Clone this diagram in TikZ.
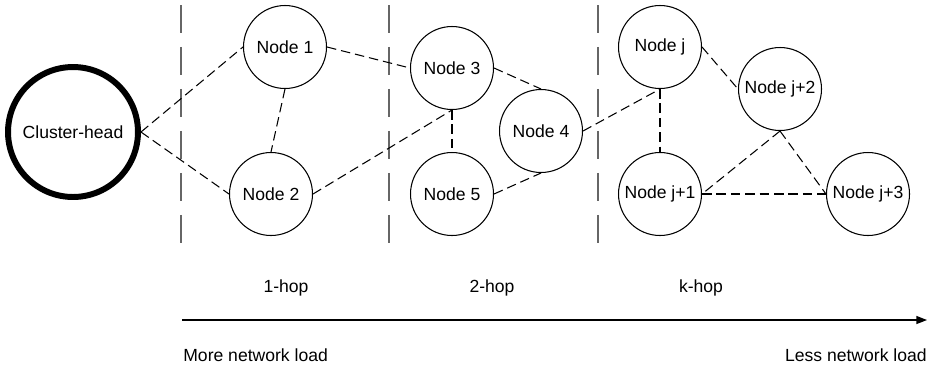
\documentclass[tikz,border=0pt]{standalone}
\usepackage{fontspec}
\setmainfont{Liberation Sans}
\usetikzlibrary{arrows.meta}
\tikzset{
	hop/.style={circle, draw, line width=0.6pt, minimum size=1.66cm, inner sep=0pt},
	link/.style={line width=0.6pt, dash pattern=on 5.4pt off 2.8pt},
	divider/.style={draw=black!60, line width=0.9pt, dash pattern=on 15.9pt off 8pt}
}

\begin{document}
\begin{tikzpicture}[x=0.02cm, y=-0.02cm, font=\fontsize{10}{12}\selectfont]
	\useasboundingbox (0,0) rectangle (928,366);
	% hop boundaries
	\draw[divider] (181,5) -- (181,243);
	\draw[divider] (389,5) -- (389,243);
	\draw[divider] (598,5) -- (598,243);
	% nodes
	\node[hop, line width=3.4pt, minimum size=2.6cm] (ch) at (73,132) {Cluster-head};
	\node[hop] (n1) at (285,47) {Node 1};
	\node[hop] (n2) at (271,194) {Node 2};
	\node[hop] (n3) at (452,68) {Node 3};
	\node[hop] (n4) at (541,131) {Node 4};
	\node[hop] (n5) at (452,194) {Node 5};
	\node[hop] (nj) at (660,47) {Node j};
	\node[hop] (nj1) at (660,194) {Node j+1};
	\node[hop] (nj2) at (780,89) {Node j+2};
	\node[hop] (nj3) at (868,194) {Node j+3};
	% links
	\draw[link] (ch.east) -- (n1.west);
	\draw[link] (ch.east) -- (n2.west);
	\draw[link] (n1.south) -- (n2.north);
	\draw[link] (n1.east) -- (n3.west);
	\draw[link] (n2.east) -- (n3.south);
	\draw[link] (n3.south) -- (n5.north);
	\draw[link] (n3.east) -- (n4.north);
	\draw[link] (n5.east) -- (n4.south);
	\draw[link] (n4.east) -- (nj.south);
	\draw[link] (nj.south) -- (nj1.north);
	\draw[link] (nj.east) -- (nj2.west);
	\draw[link] (nj2.south) -- (nj1.east);
	\draw[link] (nj2.south) -- (nj3.west);
	\draw[link] (nj1.east) -- (nj3.west);
	% hop labels
	\node (hop1) at (286,288) {1-hop};
	\node (hop2) at (492,288) {2-hop};
	\node (hopk) at (701,288) {k-hop};
	% load axis
	\coordinate (loadstart) at (182,320);
	\coordinate (loadend) at (927,320);
	\draw[line width=0.7pt, -{Triangle[length=6pt, width=4.5pt]}] (loadstart) -- (loadend);
	\node[anchor=west, inner sep=0pt] (more) at (183,355) {More network load};
	\node[anchor=east, inner sep=0pt] (less) at (927,355) {Less network load};
\end{tikzpicture}
\end{document}
